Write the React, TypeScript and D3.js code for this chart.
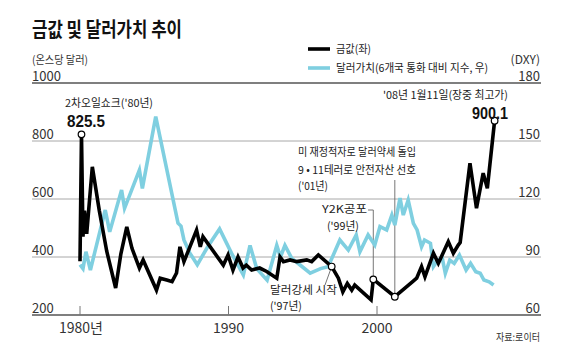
import { useEffect, useRef } from 'react';
import * as d3 from 'd3';

// gold price, USD per ounce (left axis)
const goldYears = [1980.0, 1980.1, 1980.2, 1980.3, 1980.45, 1980.83, 1981.3, 1981.8, 1982.4, 1982.75, 1983.15, 1983.5, 1984.0, 1984.25, 1985.15, 1985.4, 1985.9, 1986.2, 1986.5, 1986.73, 1987.0, 1987.4, 1987.85, 1988.1, 1988.28, 1989.65, 1989.97, 1990.3, 1990.64, 1990.98, 1991.2, 1991.56, 1992.1, 1992.57, 1993.25, 1993.47, 1993.7, 1994.14, 1994.6, 1995.27, 1995.6, 1996.05, 1996.95, 1997.4, 1997.7, 1998.0, 1998.3, 1998.5, 1999.6, 1999.75, 2001.2, 2002.4, 2002.67, 2003.0, 2003.23, 2003.8, 2004.13, 2004.8, 2005.14, 2005.47, 2005.6, 2006.26, 2006.7, 2007.15, 2007.43, 2007.92];
const goldValues = [385, 823, 470, 560, 480, 711, 560, 420, 293, 410, 504, 430, 362, 390, 286, 327, 320, 315, 345, 435, 384, 435, 493, 435, 470, 372, 407, 355, 400, 362, 372, 355, 362, 350, 327, 400, 384, 390, 384, 390, 384, 407, 367, 327, 280, 309, 286, 303, 252, 323, 263, 315, 327, 367, 332, 413, 378, 453, 413, 441, 450, 723, 568, 689, 637, 870];

// dollar index DXY (right axis)
const dxyYears = [1980.0, 1980.2, 1980.4, 1980.7, 1981.7, 1982.0, 1982.8, 1983.0, 1984.0, 1984.2, 1985.1, 1986.6, 1986.8, 1987.0, 1987.4, 1987.9, 1988.6, 1989.4, 1990.2, 1991.0, 1991.45, 1991.9, 1992.6, 1993.25, 1993.5, 1993.8, 1994.26, 1994.8, 1995.5, 1996.2, 1996.7, 1997.0, 1997.5, 1998.07, 1998.6, 1998.85, 1999.4, 1999.85, 2000.2, 2000.65, 2001.0, 2001.2, 2001.55, 2001.77, 2002.1, 2002.45, 2002.7, 2003.0, 2003.2, 2003.6, 2003.8, 2004.1, 2004.4, 2004.6, 2004.9, 2005.2, 2005.55, 2006.0, 2006.3, 2006.65, 2006.95, 2007.2, 2007.55, 2007.85];
const dxyValues = [86, 84, 92.7, 83.3, 114.3, 103, 124.7, 115.2, 135, 125.5, 162.6, 107.5, 106, 98.8, 92, 86, 95.3, 104.5, 92, 80.7, 96, 84, 78, 96, 90, 96, 89.3, 86, 81.6, 84, 85, 90, 98.8, 93.6, 101.4, 92.7, 101.4, 96.2, 105.7, 104, 111.7, 106.5, 120.5, 111.7, 119.5, 107.4, 104, 95.3, 98.8, 97.1, 85, 88.4, 89.3, 81.6, 88.4, 86.7, 91, 83.3, 86.7, 82.4, 81.6, 78.1, 77.2, 75.5];

const goldTicks = [1000, 800, 600, 400, 200];
const dxyTicks = [180, 150, 120, 90, 60];
const yearTicks = [1980, 1990, 2000];
const yearLabels = ['1980년', '1990', '2000'];

// marked points on the gold line
const markerYears = [1980.1, 1996.95, 1999.75, 2001.2, 2007.92];

const FONT = "'Liberation Sans Narrow', 'Noto Sans CJK KR', sans-serif";
const KR = "'Noto Sans CJK KR', sans-serif";

export default function App() {
    const svgRef = useRef<SVGSVGElement>(null);

    useEffect(() => {
        if (!svgRef.current) return;
        const width = 570;
        const height = 363;
        const left = 32;
        const right = 541;

        const svg = d3.select(svgRef.current);
        svg.selectAll('*').remove();

        const x = d3.scaleLinear().domain([1980, 2010]).range([80, 525.5]);
        const yGold = d3.scaleLinear().domain([200, 1000]).range([315, 83]);
        const yDxy = d3.scaleLinear().domain([60, 180]).range([315, 83]);

        // title
        svg.append('text')
            .attr('x', left).attr('y', 37)
            .attr('font-family', KR).attr('font-weight', 700).attr('font-size', 20)
            .attr('textLength', 150).attr('lengthAdjust', 'spacingAndGlyphs')
            .attr('fill', '#111')
            .text('금값 및 달러가치 추이');

        // gridlines
        goldTicks.forEach((t, i) => {
            const edge = i === 0 || i === goldTicks.length - 1;
            svg.append('line')
                .attr('x1', left).attr('x2', right)
                .attr('y1', yGold(t)).attr('y2', yGold(t))
                .attr('stroke', edge ? '#555' : '#a8a8a8')
                .attr('stroke-width', edge ? 1.3 : 1);
        });

        // left axis labels
        svg.append('text')
            .attr('x', left).attr('y', 64)
            .attr('font-family', KR).attr('font-size', 11)
            .attr('textLength', 56).attr('lengthAdjust', 'spacingAndGlyphs')
            .attr('fill', '#333').text('(온스당 달러)');
        goldTicks.forEach(t => {
            svg.append('text')
                .attr('x', left).attr('y', yGold(t) - 2.5)
                .attr('font-family', FONT).attr('font-size', 13)
                .attr('fill', '#333').text(t);
        });

        // right axis labels
        svg.append('text')
            .attr('x', 540).attr('y', 64).attr('text-anchor', 'end')
            .attr('font-family', FONT).attr('font-size', 12)
            .attr('fill', '#333').text('(DXY)');
        dxyTicks.forEach(t => {
            svg.append('text')
                .attr('x', 540).attr('y', yDxy(t) - 2.5).attr('text-anchor', 'end')
                .attr('font-family', FONT).attr('font-size', 13)
                .attr('fill', '#333').text(t);
        });

        // x ticks
        yearTicks.forEach((t, i) => {
            svg.append('line')
                .attr('x1', x(t)).attr('x2', x(t))
                .attr('y1', 306).attr('y2', 315)
                .attr('stroke', '#777').attr('stroke-width', 1);
            svg.append('text')
                .attr('x', x(t) + (i === 0 ? 1 : 0)).attr('y', 333)
                .attr('text-anchor', 'middle')
                .attr('font-family', FONT).attr('font-size', 14)
                .attr('fill', '#333').text(yearLabels[i]);
        });

        // annotation leader lines
        const thin = (x1: number, y1: number, x2: number, y2: number) =>
            svg.append('line')
                .attr('x1', x1).attr('y1', y1).attr('x2', x2).attr('y2', y2)
                .attr('stroke', '#666').attr('stroke-width', 0.9);
        thin(368, 210, x(1999.75), 210);
        thin(x(1999.75), 210, x(1999.75), yGold(323));
        thin(x(2001.2), 180, x(2001.2), yGold(263));
        thin(325, 285, x(1996.95), yGold(367));

        // lines
        const goldData = goldYears.map((yr, i) => [yr, goldValues[i]] as [number, number]);
        const dxyData = dxyYears.map((yr, i) => [yr, dxyValues[i]] as [number, number]);

        svg.append('path')
            .datum(dxyData)
            .attr('fill', 'none')
            .attr('stroke', '#7fcfe0')
            .attr('stroke-width', 3.6)
            .attr('stroke-linejoin', 'miter')
            .attr('d', d3.line<[number, number]>().x(d => x(d[0])).y(d => yDxy(d[1])));

        svg.append('path')
            .datum(goldData)
            .attr('fill', 'none')
            .attr('stroke', '#000')
            .attr('stroke-width', 3.6)
            .attr('stroke-linejoin', 'miter')
            .attr('d', d3.line<[number, number]>().x(d => x(d[0])).y(d => yGold(d[1])));

        // markers
        markerYears.forEach(yr => {
            const i = goldYears.indexOf(yr);
            svg.append('circle')
                .attr('cx', x(yr)).attr('cy', yGold(goldValues[i]))
                .attr('r', 3.3)
                .attr('fill', '#fff').attr('stroke', '#000').attr('stroke-width', 1.2);
        });

        // legend
        svg.append('line').attr('x1', 308).attr('x2', 330).attr('y1', 49).attr('y2', 49)
            .attr('stroke', '#000').attr('stroke-width', 3.6);
        svg.append('text').attr('x', 336).attr('y', 53)
            .attr('font-family', KR).attr('font-size', 11)
            .attr('textLength', 35).attr('lengthAdjust', 'spacingAndGlyphs')
            .attr('fill', '#222').text('금값(좌)');
        svg.append('line').attr('x1', 308).attr('x2', 330).attr('y1', 68).attr('y2', 68)
            .attr('stroke', '#7fcfe0').attr('stroke-width', 3.6);
        svg.append('text').attr('x', 336).attr('y', 72)
            .attr('font-family', KR).attr('font-size', 11)
            .attr('textLength', 152).attr('lengthAdjust', 'spacingAndGlyphs')
            .attr('fill', '#222').text('달러가치(6개국 통화 대비 지수, 우)');

        // annotations text
        const note = (tx: number, ty: number, s: string, len: number, size = 11) =>
            svg.append('text').attr('x', tx).attr('y', ty)
                .attr('font-family', KR).attr('font-size', size)
                .attr('textLength', len).attr('lengthAdjust', 'spacingAndGlyphs')
                .attr('fill', '#222').text(s);
        note(65, 107, "2차오일쇼크('80년)", 88);
        note(383, 99, "'08년 1월11일(장중 최고가)", 125);
        note(298, 156, '미 재정적자로 달러약세 돌입', 118);
        note(298, 174, '9 • 11테러로 안전자산 선호', 118);
        note(298, 190, "('01년)", 30);
        note(322, 213, 'Y2K공포', 45);
        note(327, 230, "('99년)", 32);
        note(270, 294, '달러강세 시작', 67);
        note(270, 310, "('97년)", 32);

        svg.append('text').attr('x', 67).attr('y', 127)
            .attr('font-family', "'Liberation Sans', Arial, sans-serif").attr('font-weight', 700)
            .attr('font-size', 17).attr('textLength', 38).attr('lengthAdjust', 'spacingAndGlyphs')
            .attr('fill', '#111').text('825.5');
        svg.append('text').attr('x', 472).attr('y', 119)
            .attr('font-family', "'Liberation Sans', Arial, sans-serif").attr('font-weight', 700)
            .attr('font-size', 17).attr('textLength', 36).attr('lengthAdjust', 'spacingAndGlyphs')
            .attr('fill', '#111').text('900.1');

        // source
        svg.append('text').attr('x', 540).attr('y', 341).attr('text-anchor', 'end')
            .attr('font-family', KR).attr('font-size', 10)
            .attr('textLength', 44).attr('lengthAdjust', 'spacingAndGlyphs')
            .attr('fill', '#333').text('자료:로이터');

        svg.attr('width', width).attr('height', height);
    }, []);

    return (
        <svg
            ref={svgRef}
            width={570}
            height={363}
            style={{ position: 'absolute', left: 0, top: 0, background: '#fff' }}
        />
    );
}
